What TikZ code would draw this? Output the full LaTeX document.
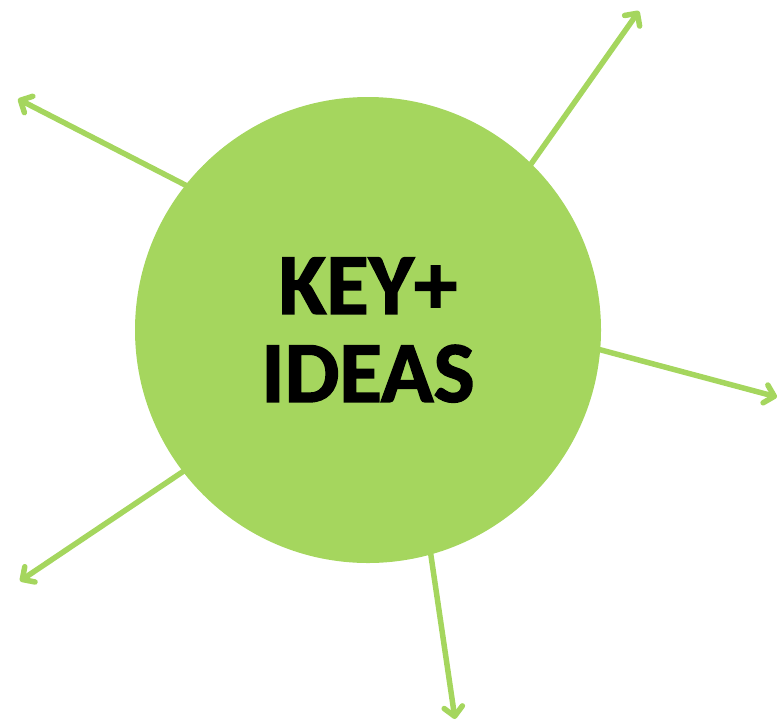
\documentclass[tikz,border=0pt]{standalone}
\usepackage{fontspec}
\setmainfont{Carlito}[BoldFeatures={FakeBold=1.6}]
\usetikzlibrary{arrows.meta}
\definecolor{kgreen}{RGB}{165,214,94}
\tikzset{
  ray/.style={draw=kgreen, line width=5.5pt, line cap=round,
    -{Straight Barb[angle=90:13pt, round]}},
  hub/.style={circle, fill=kgreen, minimum size=466pt, inner sep=0pt,
    font=\fontsize{87}{90}\selectfont\bfseries, align=center, text=black}
}
\begin{document}
\begin{tikzpicture}[x=1pt,y=-1pt]
\useasboundingbox (0,0) rectangle (778,726);
\coordinate (s1) at (500,208);  \coordinate (e1) at (639,11);
\coordinate (s2) at (230,208);  \coordinate (e2) at (18,99);
\coordinate (s3) at (560,339);  \coordinate (e3) at (777,397);
\coordinate (s4) at (230,440);  \coordinate (e4) at (20,581);
\coordinate (s5) at (425,515);  \coordinate (e5) at (455,719);
\foreach \i in {1,...,5} { \draw[ray] (s\i) -- (e\i); }
\node[hub] (c) at (368,330) {KEY+\\[-2pt]IDEAS};
\end{tikzpicture}
\end{document}
